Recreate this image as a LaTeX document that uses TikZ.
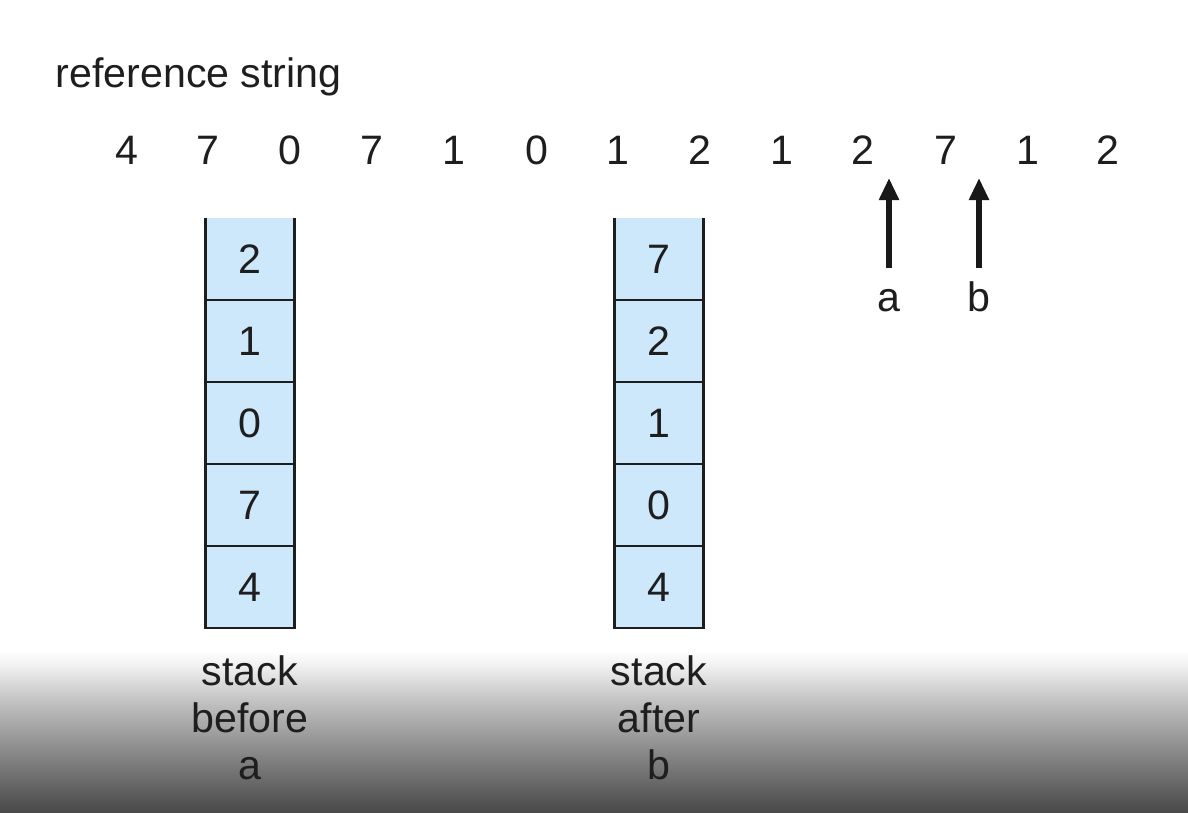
\documentclass[tikz,border=0pt]{standalone}
\usepackage{fontspec}
\setmainfont{Liberation Sans}
\usetikzlibrary{arrows.meta,positioning}

\definecolor{cellfill}{RGB}{205,232,250}
\definecolor{ink}{RGB}{30,30,30}
\pgfdeclareverticalshading{bottomfade}{100bp}{color(0bp)=(black!72);color(25bp)=(black!72);
  color(44bp)=(black!46);color(60bp)=(black!23);color(70bp)=(black!6);color(75bp)=(white);color(100bp)=(white)}

\begin{document}
\begin{tikzpicture}[x=0.01cm,y=-0.01cm]
\tikzset{
  refnum/.style={anchor=base,text=ink,font=\fontsize{11.7}{14}\selectfont},
  cell/.style={fill=cellfill,minimum width=0.89cm,minimum height=0.82cm,inner sep=0pt,outer sep=0pt,text=ink,font=\fontsize{11.7}{14}\selectfont},
  frame/.style={draw=ink,line width=0.6pt},
  caption/.style={align=center,text=ink,font=\fontsize{11.7}{13.4}\selectfont},
  ptrlabel/.style={anchor=base,text=ink,text height=8.4pt,text depth=0pt,inner ysep=4pt,font=\fontsize{11.7}{14}\selectfont},
  pointer/.style={-{Triangle[length=2.2mm,width=1.9mm]},line width=1.5pt,draw=black!90}
}
\useasboundingbox (0,0) rectangle (1188,813);
\shade[shading=bottomfade] (0,650) rectangle (1188,813);

% reference string
\node[anchor=base west,text=ink,font=\fontsize{11.7}{14}\selectfont,inner sep=0pt] (title) at (55,88) {reference string};
\node[refnum] (r1) at (127,165) {4};
\node[refnum] (r2) at (208,165) {7};
\node[refnum] (r3) at (290,165) {0};
\node[refnum] (r4) at (372,165) {7};
\node[refnum] (r5) at (454,165) {1};
\node[refnum] (r6) at (537,165) {0};
\node[refnum] (r7) at (618,165) {1};
\node[refnum] (r8) at (700,165) {2};
\node[refnum] (r9) at (782,165) {1};
\node[refnum] (r10) at (863,165) {2};
\node[refnum] (r11) at (946,165) {7};
\node[refnum] (r12) at (1028,165) {1};
\node[refnum] (r13) at (1108,165) {2};

% pointers a and b
\node[ptrlabel] (l_a) at (889,312) {a};
\node[ptrlabel] (l_b) at (979,312) {b};
\coordinate (t_a) at (889,178);
\coordinate (t_b) at (979,178);
\draw[pointer] (l_a.north) -- (t_a);
\draw[pointer] (l_b.north) -- (t_b);

% stack before a
\node[cell] (a1) at (250,259) {2};
\node[cell,below=0pt of a1] (a2) {1};
\node[cell,below=0pt of a2] (a3) {0};
\node[cell,below=0pt of a3] (a4) {7};
\node[cell,below=0pt of a4] (a5) {4};
\draw[frame] (a1.north west) -- (a5.south west) -- (a5.south east) -- (a1.north east);
\draw[frame] (a1.south west) -- (a1.south east);
\draw[frame] (a2.south west) -- (a2.south east);
\draw[frame] (a3.south west) -- (a3.south east);
\draw[frame] (a4.south west) -- (a4.south east);
\node[caption,below=0.15cm of a5] (cap_a) {stack\\before\\a};

% stack after b
\node[cell] (b1) at (659,259) {7};
\node[cell,below=0pt of b1] (b2) {2};
\node[cell,below=0pt of b2] (b3) {1};
\node[cell,below=0pt of b3] (b4) {0};
\node[cell,below=0pt of b4] (b5) {4};
\draw[frame] (b1.north west) -- (b5.south west) -- (b5.south east) -- (b1.north east);
\draw[frame] (b1.south west) -- (b1.south east);
\draw[frame] (b2.south west) -- (b2.south east);
\draw[frame] (b3.south west) -- (b3.south east);
\draw[frame] (b4.south west) -- (b4.south east);
\node[caption,below=0.15cm of b5] (cap_b) {stack\\after\\b};
\end{tikzpicture}
\end{document}
